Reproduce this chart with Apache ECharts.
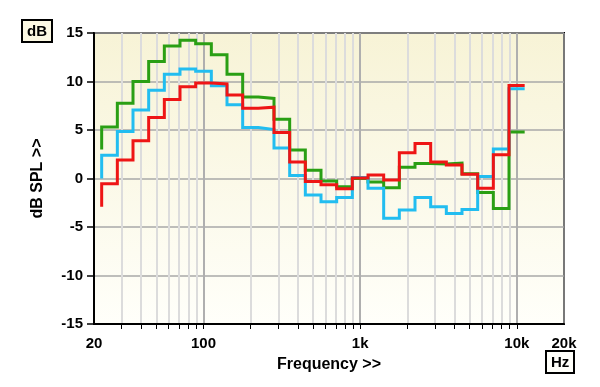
<!DOCTYPE html>
<html>
<head>
<meta charset="utf-8">
<script src="https://cdn.jsdelivr.net/npm/echarts@6/dist/echarts.min.js"></script>
<style>
  html, body { margin: 0; padding: 0; background: #fff; }
  #chart { width: 600px; height: 387px; }
</style>
</head>
<body>
<div id="chart"></div>
<script>
// 1/3 octave band centres (the first one only gives the start point of each trace)
var bands = [20, 25, 31.5, 40, 50, 63, 80, 100, 125, 160, 200, 250, 315, 400, 500, 630, 800,
             1000, 1250, 1600, 2000, 2500, 3150, 4000, 5000, 6300, 8000, 10000];

// levels in dB SPL, one per band
var greenLevels = [3.0, 5.3, 7.75, 10.0, 12.05, 13.65, 14.25, 13.9, 12.75, 10.75, 8.4, 8.25, 6.1, 2.95,
                   0.85, -0.25, -0.85, 0.0, -0.35, -0.95, 1.15, 1.55, 1.5, 1.6, 0.5, -1.45, -3.1, 4.8];
var blueLevels  = [0.0, 2.4, 4.85, 7.05, 9.1, 10.75, 11.3, 11.05, 9.55, 7.6, 5.25, 5.05, 3.15, 0.3,
                   -1.7, -2.4, -1.95, 0.1, -1.0, -4.1, -3.25, -1.95, -2.9, -3.6, -3.2, 0.2, 3.05, 9.25];
var redLevels   = [-2.9, -0.55, 1.9, 3.9, 6.3, 8.15, 9.45, 9.85, 9.75, 8.6, 7.25, 7.35, 4.75, 1.7,
                   -0.3, -0.65, -1.05, 0.05, 0.35, -0.15, 2.65, 3.6, 1.7, 1.4, 0.45, -1.0, 2.45, 9.6];

// axis ticks / labels
var freqLabels = [20, 100, 1000, 10000, 20000];
var minorFreqs = [30, 40, 50, 60, 70, 80, 90, 100, 200, 300, 400, 500, 600, 700, 800, 900,
                  1000, 2000, 3000, 4000, 5000, 6000, 7000, 8000, 9000, 10000];

var FONT = '"Liberation Sans", Arial, sans-serif';

// upper edge of a 1/3 octave band (base 10 series, 20 Hz is index -17)
function upperEdge(i) {
  return 1000 * Math.pow(10, (i - 17 + 0.5) / 10);
}

// build the staircase: vertical at each band edge, flat across the band
function stairs(levels) {
  var pts = [[upperEdge(0), levels[0]]];
  for (var i = 1; i < levels.length; i++) {
    pts.push([upperEdge(i - 1), levels[i]]);
    pts.push([upperEdge(i), levels[i]]);
  }
  return pts;
}

function fmtFreq(v) {
  v = Math.round(v);
  return v >= 1000 ? (v / 1000) + 'k' : String(v);
}

function lineSeries(name, color, levels) {
  return {
    name: name,
    type: 'line',
    data: stairs(levels),
    showSymbol: false,
    symbol: 'none',
    lineStyle: { color: color, width: 3, join: 'miter', cap: 'butt' },
    xAxisIndex: 0,
    animation: false
  };
}

var chart = echarts.init(document.getElementById('chart'));
chart.setOption({
  animation: false,
  backgroundColor: '#ffffff',
  title: [{
    text: 'dB', left: 22, top: 20,
    padding: [4, 5, 3, 5],
    backgroundColor: '#fcf9e3', borderColor: '#000', borderWidth: 2,
    textStyle: { fontFamily: FONT, fontSize: 15, fontWeight: 'bold', color: '#000' }
  }, {
    text: 'Hz', left: 546, top: 351,
    padding: [4, 5, 3, 5],
    backgroundColor: '#fffffa', borderColor: '#000', borderWidth: 2,
    textStyle: { fontFamily: FONT, fontSize: 15, fontWeight: 'bold', color: '#000' }
  }],
  grid: {
    left: 94, right: 36, top: 33, bottom: 63,
    show: true,
    borderColor: '#000', borderWidth: 2,
    backgroundColor: {
      type: 'linear', x: 0, y: 0, x2: 0, y2: 1,
      colorStops: [{ offset: 0, color: '#f7f3d6' }, { offset: 1, color: '#fffffa' }]
    }
  },
  xAxis: [{
    type: 'log', logBase: 10, min: 20, max: 20000,
    name: 'Frequency >>', nameLocation: 'middle', nameGap: 33,
    nameTextStyle: { fontFamily: FONT, fontSize: 16, fontWeight: 'bold', color: '#000' },
    axisLine: { show: true, onZero: false, lineStyle: { color: '#000', width: 2 } },
    axisTick: { show: true, customValues: minorFreqs, length: 5, lineStyle: { color: '#000', width: 1 } },
    axisLabel: {
      customValues: freqLabels, margin: 12, formatter: fmtFreq,
      fontFamily: FONT, fontSize: 15, fontWeight: 'bold', color: '#000'
    },
    splitLine: { show: true, lineStyle: { color: '#dcdcdc', width: 2 } }
  }, {
    // decade lines drawn darker
    type: 'log', logBase: 10, min: 20, max: 20000, position: 'bottom',
    axisLine: { show: false, onZero: false }, axisTick: { show: false }, axisLabel: { show: false },
    splitLine: { show: true, lineStyle: { color: '#a0a0a0', width: 1.5 } }
  }],
  yAxis: {
    type: 'value', min: -15, max: 15, interval: 5,
    name: 'dB SPL >>', nameLocation: 'middle', nameGap: 48, nameRotate: 90,
    nameTextStyle: { fontFamily: FONT, fontSize: 16, fontWeight: 'bold', color: '#000' },
    axisLine: { show: true, onZero: false, lineStyle: { color: '#000', width: 2 } },
    axisTick: { show: true, length: 7, lineStyle: { color: '#000', width: 1.5 } },
    axisLabel: { margin: 11, fontFamily: FONT, fontSize: 15, fontWeight: 'bold', color: '#000' },
    splitLine: { show: true, lineStyle: { color: '#a8a8a8', width: 1.5 } }
  },
  series: [
    lineSeries('green', '#2a9f14', greenLevels),
    lineSeries('blue', '#22bdf0', blueLevels),
    lineSeries('red', '#ee1515', redLevels)
  ]
});
</script>
</body>
</html>
